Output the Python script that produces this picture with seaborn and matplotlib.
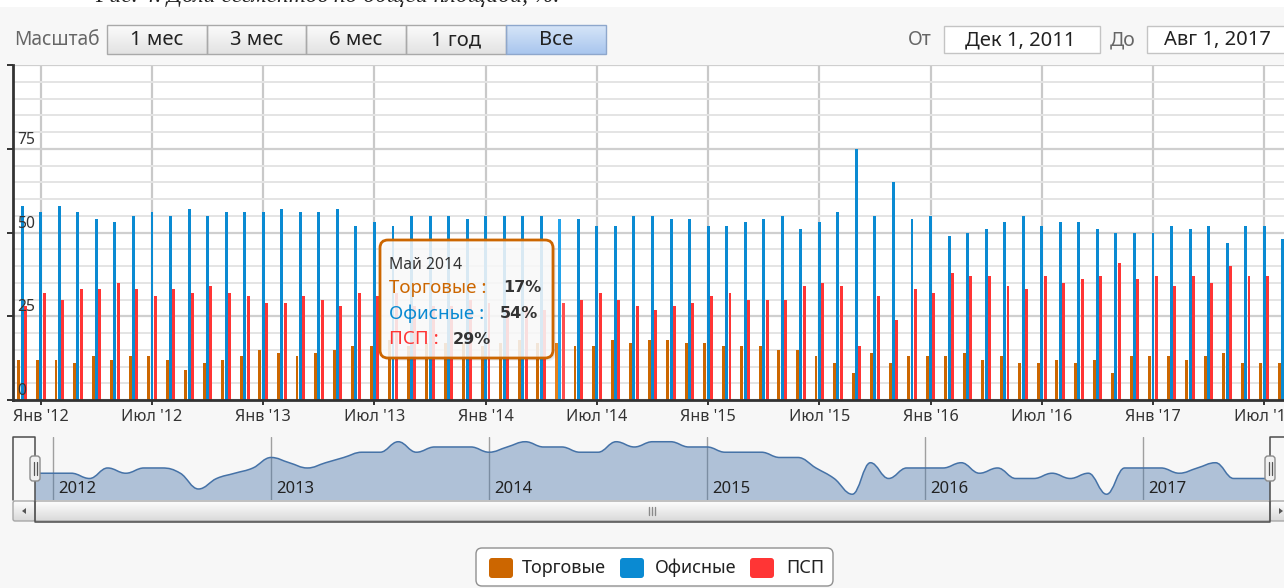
import numpy as np
import pandas as pd
import matplotlib
matplotlib.use("Agg")
import matplotlib.pyplot as plt
import matplotlib.transforms as mtransforms
from matplotlib.patches import Rectangle, FancyBboxPatch, PathPatch, Polygon
from matplotlib.path import Path
from matplotlib.colors import to_rgb
import seaborn as sns

# ---------------- data ----------------
months = pd.date_range("2011-12-01", "2017-08-01", freq="MS")  # Dec 2011 .. Aug 2017
segments = ["Торговые", "Офисные", "ПСП"]
trade = [12, 12, 12, 11, 13, 12, 13, 13, 12, 9, 11, 12, 13,
         15, 14, 13, 14, 15, 16, 16, 18, 16, 17, 17, 17,
         16, 17, 18, 17, 17, 16, 16, 18, 17, 18, 18, 17,
         17, 16, 16, 16, 15, 15, 13, 11, 8, 14, 11, 13,
         13, 13, 14, 12, 13, 11, 11, 12, 11, 12, 8, 13,
         13, 13, 12, 13, 14, 11, 11, 11]
office = [58, 56, 58, 56, 54, 53, 55, 56, 55, 57, 55, 56, 56,
          56, 57, 56, 56, 57, 52, 53, 52, 55, 55, 55, 54,
          55, 55, 55, 55, 54, 54, 52, 52, 55, 55, 54, 54,
          52, 52, 53, 54, 55, 51, 53, 56, 75, 55, 65, 54,
          55, 49, 50, 51, 53, 55, 52, 53, 53, 51, 50, 50,
          50, 52, 51, 52, 47, 52, 52, 48]
psp = [28, 32, 30, 33, 33, 35, 33, 31, 33, 32, 34, 32, 31,
       29, 29, 31, 30, 28, 32, 31, 32, 28, 28, 28, 30,
       29, 28, 28, 27, 29, 30, 32, 30, 28, 27, 28, 29,
       31, 32, 30, 30, 30, 34, 35, 34, 16, 31, 24, 33,
       32, 38, 37, 37, 34, 33, 37, 35, 36, 37, 41, 36,
       37, 34, 37, 35, 40, 37, 37, 41]
month_abbr = {1: "Янв", 7: "Июл"}
ytick_vals = [0, 25, 50, 75]
hover_month = "2014-05"
tooltip_title = "Май 2014"
range_buttons = ["1 мес", "3 мес", "6 мес", "1 год", "Все"]
date_from, date_to = "Дек 1, 2011", "Авг 1, 2017"
caption = "Рис. 4. Доли сегментов по общей площади, %."

colors = {"Торговые": "#cc6600", "Офисные": "#0a8ad2", "ПСП": "#ff3535"}

month_keys = months.strftime("%Y-%m").tolist()
df = pd.DataFrame({
    "month": month_keys * 3,
    "segment": np.repeat(segments, len(month_keys)),
    "value": trade + office + psp,
})

# ---------------- figure ----------------
W, H = 1284, 588
sns.set_theme(style="white")
plt.rcParams["font.family"] = ["Noto Sans", "DejaVu Sans"]
fig = plt.figure(figsize=(W / 100, H / 100), dpi=100, facecolor="#f7f7f7")

def fr(x0, y0, x1, y1):
    return [x0 / W, 1 - y1 / H, (x1 - x0) / W, (y1 - y0) / H]

# main plot area: x 13..1292 (extends past image), y 65..400
ax = fig.add_axes(fr(13, 65, 1292, 400), zorder=1)
ax.set_facecolor("white")
sns.barplot(data=df, x="month", y="value", hue="segment", hue_order=segments,
            order=month_keys, palette=colors, width=0.54, gap=0.12,
            saturation=1, errorbar=None, linewidth=0, legend=False, ax=ax)

# hover highlight of the May 2014 column
hi = month_keys.index(hover_month)
for p in ax.patches:
    c = p.get_x() + p.get_width() / 2
    if abs(c - hi) < 0.45:
        r, g, b = to_rgb(p.get_facecolor())
        p.set_facecolor((min(r + 0.1, 1), min(g + 0.1, 1), min(b + 0.1, 1)))

ax.set_xlim(-0.5, len(month_keys) - 0.5)
ax.set_ylim(0, 100)
tick_idx = [i for i, m in enumerate(months) if m.month in (1, 7)]
tick_lab = [f"{month_abbr[months[i].month]} '{months[i].strftime('%y')}" for i in tick_idx]
ax.set_xticks(tick_idx)
ax.set_xticklabels(tick_lab, fontsize=11.7, color="#333333")
ax.set_yticks([0, 25, 50, 75, 100])
ax.set_yticks(list(range(0, 101, 5)), minor=True)
ax.set_yticklabels([])
ax.set_xlabel("")
ax.set_ylabel("")
ax.yaxis.grid(True, which="minor", color="#e4e4e4", lw=1.4)
ax.yaxis.grid(True, which="major", color="#cfcfcf", lw=1.6)
ax.xaxis.grid(True, which="major", color="#c9c9c9", lw=1.6)
ax.set_axisbelow(True)
ax.tick_params(axis="y", which="major", direction="out", length=4.5, width=1.4,
               color="#333333", left=True)
ax.tick_params(axis="y", which="minor", length=0)
ax.tick_params(axis="x", which="major", direction="out", length=3.8, width=1.4,
               color="#333333", bottom=True, pad=3)
for s in ["top", "right"]:
    ax.spines[s].set_visible(False)
for s in ["left", "bottom"]:
    ax.spines[s].set_color("#333333")
    ax.spines[s].set_linewidth(2)
lab_tr = mtransforms.offset_copy(ax.get_yaxis_transform(), fig=fig, x=4, y=9, units="dots")
for v in ytick_vals:
    ax.text(0, v, str(v), transform=lab_tr, ha="left", va="center",
            fontsize=11.3, color="#333333")

# ---------------- navigator ----------------
nav = fig.add_axes(fr(35, 437, 1270, 500), zorder=2)
nav.set_facecolor("none")
nav.set_xlim(0, len(month_keys) - 1)
nav_lo, nav_hi = 6.9, 18.9
nav.set_ylim(nav_lo, nav_hi)
nav.axis("off")

def hc_spline(xs, ys, sm=1.5):
    n = len(xs)
    lc = [None] * n
    rc = [None] * n
    for i in range(1, n - 1):
        lx = (sm * xs[i] + xs[i - 1]) / (sm + 1)
        ly = (sm * ys[i] + ys[i - 1]) / (sm + 1)
        rx = (sm * xs[i] + xs[i + 1]) / (sm + 1)
        ry = (sm * ys[i] + ys[i + 1]) / (sm + 1)
        if rx != lx:
            corr = ((ry - ly) * (rx - xs[i])) / (rx - lx) + ys[i] - ry
            ly += corr
            ry += corr
        if ly > max(ys[i - 1], ys[i]):
            ly = max(ys[i - 1], ys[i]); ry = 2 * ys[i] - ly
        elif ly < min(ys[i - 1], ys[i]):
            ly = min(ys[i - 1], ys[i]); ry = 2 * ys[i] - ly
        if ry > max(ys[i + 1], ys[i]):
            ry = max(ys[i + 1], ys[i]); ly = 2 * ys[i] - ry
        elif ry < min(ys[i + 1], ys[i]):
            ry = min(ys[i + 1], ys[i]); ly = 2 * ys[i] - ry
        lc[i] = (lx, ly)
        rc[i] = (rx, ry)
    rc[0] = (xs[0], ys[0])
    lc[n - 1] = (xs[-1], ys[-1])
    verts = [(xs[0], ys[0])]
    codes = [Path.MOVETO]
    for i in range(1, n):
        verts += [rc[i - 1], lc[i], (xs[i], ys[i])]
        codes += [Path.CURVE4] * 3
    return verts, codes

xs = list(range(len(trade)))
v, c = hc_spline(xs, trade)
fill_v = v + [(xs[-1], nav_lo), (xs[0], nav_lo), (xs[0], trade[0])]
fill_c = c + [Path.LINETO, Path.LINETO, Path.CLOSEPOLY]
nav.add_patch(PathPatch(Path(fill_v, fill_c), facecolor="#4572a7", alpha=0.4, lw=0))
nav.add_patch(PathPatch(Path(v, c), facecolor="none", edgecolor="#4572a7", lw=1.1))
for i, m in enumerate(months):
    if m.month == 1:
        nav.axvline(i, color="#a0a0a0", lw=1, zorder=0)
        nav.text(i, nav_lo, str(m.year), transform=mtransforms.offset_copy(
            nav.transData, fig=fig, x=5, y=11, units="dots"),
            ha="left", va="center", fontsize=12, color="#222222")

# ---------------- overlay (chrome) ----------------
ov = fig.add_axes([0, 0, 1, 1], zorder=10)
ov.set_xlim(0, W)
ov.set_ylim(H, 0)
ov.axis("off")
ov.patch.set_alpha(0)

def grad_rect(x0, y0, x1, y1, ctop, cbot, edge, r=0.0, lw=1.0):
    t = np.array(to_rgb(ctop)); b = np.array(to_rgb(cbot))
    g = np.linspace(0, 1, 32)[:, None, None]
    img = t * (1 - g) + b * g
    img = np.repeat(img, 2, axis=1)
    im = ov.imshow(img, extent=[x0, x1, y1, y0], aspect="auto", zorder=3,
                   interpolation="bilinear")
    bs = f"round,pad=0,rounding_size={r}" if r > 0 else "square,pad=0"
    pb = FancyBboxPatch((x0, y0), x1 - x0, y1 - y0, boxstyle=bs,
                        facecolor="none", edgecolor=edge, lw=lw, zorder=4)
    ov.add_patch(pb)
    im.set_clip_path(pb)

# caption strip (cut off at top)
ov.add_patch(Rectangle((0, 0), W, 7, facecolor="white", lw=0, zorder=1))
ov.text(95, 2, caption, fontfamily="Liberation Serif", style="italic",
        fontsize=17, color="#222222", ha="left", va="baseline", zorder=2)

# range selector
ov.text(14, 40, "Масштаб", fontsize=13.8, color="#666666", ha="left", va="center", zorder=5)
bx = [107, 207, 306, 406, 506, 606]
for k, lab in enumerate(range_buttons):
    sel = k == len(range_buttons) - 1
    grad_rect(bx[k], 25, bx[k + 1], 54,
              "#d6e5f8" if sel else "#fbfbfb", "#a9c6ee" if sel else "#e3e3e3",
              "#8ea7cc" if sel else "#a9a9a9")
    ov.text((bx[k] + bx[k + 1]) / 2, 40, lab, fontsize=14.5, color="#222222",
            ha="center", va="center", zorder=5)
ov.text(908, 40, "От", fontsize=14, color="#666666", ha="left", va="center", zorder=5)
ov.add_patch(Rectangle((944, 26), 156, 27, facecolor="white", edgecolor="#c4c4c4", lw=1, zorder=4))
ov.text(1020, 40, date_from, fontsize=14.5, color="#222222", ha="center", va="center", zorder=5)
ov.text(1110, 40, "До", fontsize=14, color="#666666", ha="left", va="center", zorder=5)
ov.add_patch(Rectangle((1147, 26), 150, 27, facecolor="white", edgecolor="#c4c4c4", lw=1, zorder=4))
ov.text(1217, 40, date_to, fontsize=14.5, color="#222222", ha="center", va="center", zorder=5)

# scrollbar
grad_rect(13, 501, 35, 521, "#fdfdfd", "#d9d9d9", "#a8a8a8", r=2)
grad_rect(35, 501, 1270, 521, "#fdfdfd", "#dadada", "#a8a8a8", r=2)
grad_rect(1270, 501, 1292, 521, "#fdfdfd", "#d9d9d9", "#a8a8a8", r=2)
ov.add_patch(Polygon([(22, 511), (26, 508), (26, 514)], closed=True, facecolor="#555555", lw=0, zorder=5))
ov.add_patch(Polygon([(1283, 511), (1279, 508), (1279, 514)], closed=True, facecolor="#555555", lw=0, zorder=5))
for gx in (649, 652, 655):
    ov.plot([gx, gx], [507, 515], color="#8a8a8a", lw=1, zorder=5)

# navigator outline + handles
ov.plot([13, 13, 35, 35, 1270, 1270, 1292], [500, 437, 437, 522, 522, 437, 437],
        color="#4d4d4d", lw=1.1, zorder=6)
for hx in (35, 1270):
    ov.add_patch(FancyBboxPatch((hx - 5, 456), 10, 25, boxstyle="round,pad=0,rounding_size=3",
                                facecolor="#f0f0f0", edgecolor="#8c8c8c", lw=1, zorder=7))
    for dx in (-1.5, 1.5):
        ov.plot([hx + dx, hx + dx], [462, 475], color="#555555", lw=0.9, zorder=8)

# legend
ov.add_patch(FancyBboxPatch((476, 548), 357, 38, boxstyle="round,pad=0,rounding_size=6",
                            facecolor="#ffffff", edgecolor="#909090", lw=1, zorder=4))
leg_x = [(489, 522), (620, 655), (750, 786)]
for (sx, tx), seg in zip(leg_x, segments):
    ov.add_patch(FancyBboxPatch((sx, 558), 24, 20, boxstyle="round,pad=0,rounding_size=3",
                                facecolor=colors[seg], lw=0, zorder=5))
    ov.text(tx, 568, seg, fontsize=13, color="#222222", ha="left", va="center", zorder=5)

# tooltip
for k in range(3):
    ov.add_patch(FancyBboxPatch((381 + k, 241 + k), 173, 118,
                                boxstyle="round,pad=0,rounding_size=8",
                                facecolor="black", alpha=0.05, lw=0, zorder=5))
ov.add_patch(FancyBboxPatch((380, 240), 173, 118, boxstyle="round,pad=0,rounding_size=8",
                            facecolor="white", alpha=0.85, lw=0, zorder=6))
ov.add_patch(FancyBboxPatch((380, 240), 173, 118, boxstyle="round,pad=0,rounding_size=8",
                            facecolor="none", edgecolor="#cc6600", lw=2, zorder=7))
ov.text(389, 265, tooltip_title, fontsize=11.3, color="#333333", ha="left", va="center", zorder=8)
tt_rows = [("Торговые", trade[hi], 288, 503), ("Офисные", office[hi], 314, 500), ("ПСП", psp[hi], 339, 453)]
for seg, val, ty, vx in tt_rows:
    ov.text(389, ty, f"{seg} :", fontsize=13.5, color=colors[seg], ha="left", va="center", zorder=8)
    ov.text(vx, ty, f"{val}%", fontsize=11.5, color="#333333", fontweight="bold",
            family=["DejaVu Sans"], ha="left", va="center", zorder=8)

fig.savefig("out.png", dpi=100, facecolor=fig.get_facecolor())
